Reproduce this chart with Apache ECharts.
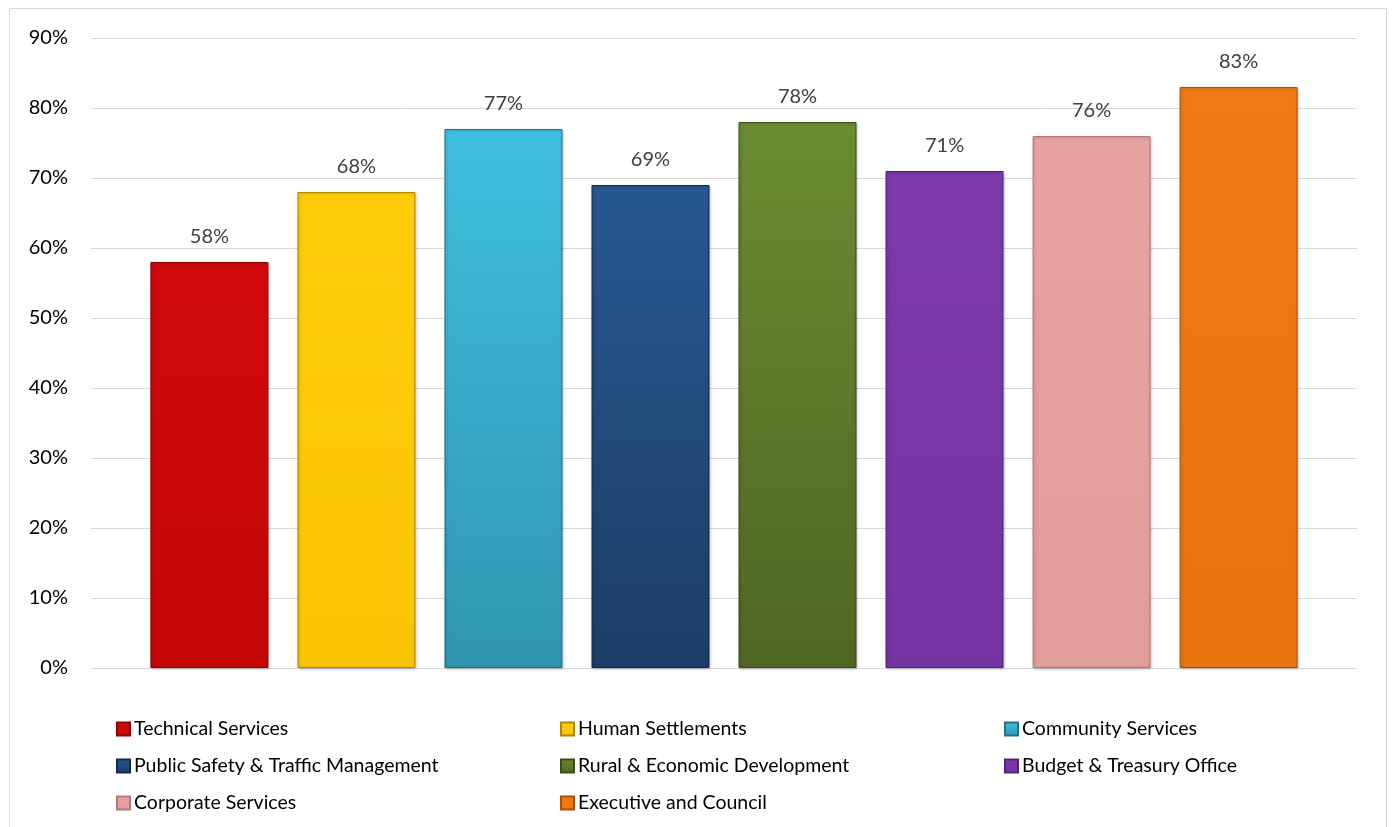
<!DOCTYPE html>
<html>
<head>
<meta charset="utf-8">
<script src="https://cdn.jsdelivr.net/npm/echarts@6/dist/echarts.min.js"></script>
<style>
  html, body { margin: 0; padding: 0; background: #fff; }
  #chart { width: 1392px; height: 827px; }
</style>
</head>
<body>
<div id="chart"></div>
<script>
// departments (one bar each, all in a single category) and their scores in %
const departments = [
  'Technical Services', 'Human Settlements', 'Community Services',
  'Public Safety & Traffic Management', 'Rural & Economic Development',
  'Budget & Treasury Office', 'Corporate Services', 'Executive and Council'
]
const scores = [58, 68, 77, 69, 78, 71, 76, 83]
const yTicks = [0, 10, 20, 30, 40, 50, 60, 70, 80, 90]

// top / bottom shade of each bar (bevel look from the original)
const topColors = ['#d00a0a', '#ffcc0a', '#40c0e0', '#27588f', '#6b8c30', '#7c3aab', '#e8a3a1', '#f27a14']
const botColors = ['#c40606', '#f8c404', '#3196b0', '#1d3d66', '#4f6624', '#7434a2', '#e29c9a', '#ec7410']
const edgeColors = ['#8a0404', '#b08800', '#247088', '#132a48', '#3a4c18', '#542478', '#b07c7a', '#a85208']

const legendCols = [
  ['Technical Services', 'Public Safety & Traffic Management', 'Corporate Services'],
  ['Human Settlements', 'Rural & Economic Development', 'Executive and Council'],
  ['Community Services', 'Budget & Treasury Office']
]

const font = 'Lato, "Open Sans", sans-serif'
const chart = echarts.init(document.getElementById('chart'))

const series = departments.map((name, i) => ({
  name,
  type: 'bar',
  data: [scores[i]],
  barWidth: 118,
  barGap: '24.6%',
  itemStyle: {
    color: new echarts.graphic.LinearGradient(0, 0, 0, 1, [
      { offset: 0, color: topColors[i] },
      { offset: 1, color: botColors[i] }
    ]),
    borderColor: edgeColors[i],
    borderWidth: 1,
    shadowColor: 'rgba(0,0,0,0.25)',
    shadowBlur: 3,
    shadowOffsetX: 1,
    shadowOffsetY: 1
  },
  label: {
    show: true, position: 'top', distance: 15,
    formatter: '{c}%', color: '#404040', fontSize: 20, fontFamily: font
  },
  emphasis: { disabled: true }
}))

chart.setOption({
  animation: false,
  graphic: [{
    type: 'rect', silent: true, z: -1,
    shape: { x: 9.5, y: 8.5, width: 1377, height: 840 },
    style: { fill: 'none', stroke: '#d9d9d9', lineWidth: 1 }
  }],
  grid: { left: 91, right: 35, top: 38, bottom: 159, containLabel: false },
  legend: legendCols.map((col, k) => ({
    data: col,
    orient: 'vertical',
    left: 116 + 444 * k,
    top: 719,
    padding: 0,
    itemWidth: 13, itemHeight: 13, itemGap: 17,
    icon: 'rect',
    selectedMode: false,
    textStyle: { fontSize: 19.5, lineHeight: 17, color: '#000', fontFamily: font, padding: [0, 0, 0, -1] }
  })),
  xAxis: {
    type: 'category',
    data: [''],
    axisLine: { lineStyle: { color: '#d9d9d9' } },
    axisTick: { show: false },
    axisLabel: { show: false }
  },
  yAxis: {
    type: 'value',
    min: yTicks[0], max: yTicks[yTicks.length - 1], interval: 10,
    axisLine: { show: false },
    axisTick: { show: false },
    axisLabel: { formatter: '{value}%', fontSize: 20, color: '#000', margin: 23, fontFamily: font },
    splitLine: { lineStyle: { color: '#d9d9d9', width: 1 } }
  },
  series
})
</script>
</body>
</html>
